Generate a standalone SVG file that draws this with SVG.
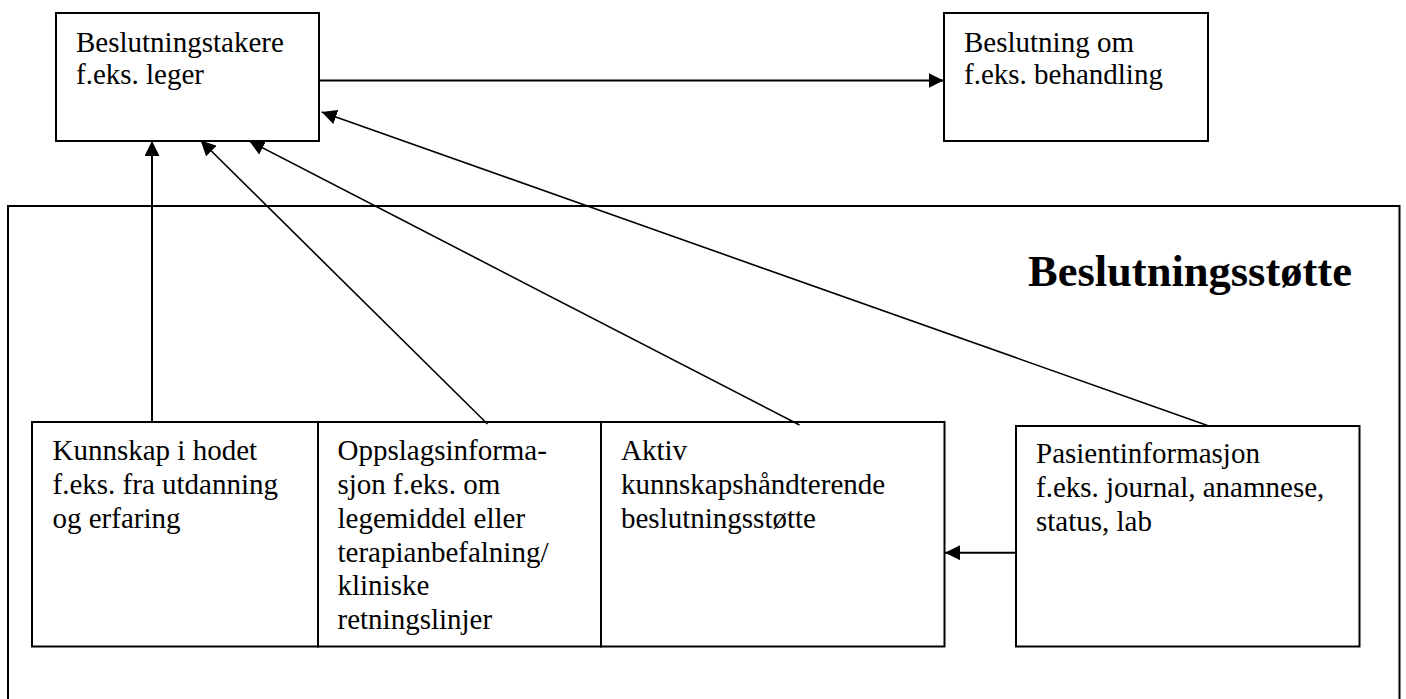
<svg xmlns="http://www.w3.org/2000/svg" width="1406" height="699" viewBox="0 0 1406 699">
<style>
.box{fill:#fff;stroke:#000;stroke-width:2}
.outer{fill:none;stroke:#000;stroke-width:2}
.t{font-family:"Liberation Serif","Times New Roman",serif;font-size:29px;fill:#000}
.title{font-family:"Liberation Serif","Times New Roman",serif;font-size:44.5px;font-weight:bold;fill:#000}
.c{stroke:#000;stroke-width:2;fill:none;marker-end:url(#ah)}
.d{stroke:#000;stroke-width:1.6;fill:none;marker-end:url(#ah)}
</style>
<defs>
<marker id="ah" markerUnits="userSpaceOnUse" markerWidth="15" markerHeight="15" viewBox="0 0 15 15" refX="15" refY="7.5" orient="auto">
<path d="M0,0 L15,7.5 L0,15 z" fill="#000"/>
</marker>
</defs>
<rect width="1406" height="699" fill="#fff"/>
<g id="beslutningsstotte">
<rect class="outer" x="8" y="206" width="1391.5" height="500"/>
<text class="title" x="1028" y="286">Beslutningsstøtte</text>
</g>
<g id="beslutningstakere">
<rect class="box" x="56" y="13" width="263" height="128"/>
<text class="t" x="76" y="52">Beslutningstakere</text>
<text class="t" x="76" y="83.5">f.eks. leger</text>
</g>
<g id="beslutning">
<rect class="box" x="944" y="13" width="264" height="128"/>
<text class="t" x="964" y="52">Beslutning om</text>
<text class="t" x="964" y="84">f.eks. behandling</text>
</g>
<g id="kunnskap">
<rect class="box" x="32" y="422" width="286" height="224.5"/>
<text class="t" x="52.5" y="459.5">Kunnskap i hodet</text>
<text class="t" x="52.5" y="493.5">f.eks. fra utdanning</text>
<text class="t" x="52.5" y="527.5">og erfaring</text>
</g>
<g id="oppslag">
<rect class="box" x="318" y="422" width="283" height="224.5"/>
<text class="t" x="337.5" y="459.5">Oppslagsinforma-</text>
<text class="t" x="337.5" y="493.5">sjon f.eks. om</text>
<text class="t" x="337.5" y="527.5">legemiddel eller</text>
<text class="t" x="337.5" y="561.5">terapianbefalning/</text>
<text class="t" x="337.5" y="595">kliniske</text>
<text class="t" x="337.5" y="628.5">retningslinjer</text>
</g>
<g id="aktiv">
<rect class="box" x="601" y="422" width="343.5" height="224.5"/>
<text class="t" x="621" y="459.5">Aktiv</text>
<text class="t" x="621" y="493.5">kunnskapshåndterende</text>
<text class="t" x="621" y="528">beslutningsstøtte</text>
</g>
<g id="pasient">
<rect class="box" x="1016" y="426" width="343.5" height="220.5"/>
<text class="t" x="1036" y="463">Pasientinformasjon</text>
<text class="t" x="1036" y="497">f.eks. journal, anamnese,</text>
<text class="t" x="1036" y="531">status, lab</text>
</g>
<g id="connectors">
<line class="c" x1="319" y1="80.5" x2="943.5" y2="80.5"/>
<line class="c" x1="152" y1="421" x2="152" y2="141"/>
<line class="d" x1="487.5" y1="424" x2="200.7" y2="140.5"/>
<line class="d" x1="799.5" y1="425" x2="249.3" y2="141"/>
<line class="d" x1="1207.5" y1="425.5" x2="321.7" y2="112"/>
<line class="c" x1="1015" y1="552.7" x2="945" y2="552.7"/>
</g>
</svg>
